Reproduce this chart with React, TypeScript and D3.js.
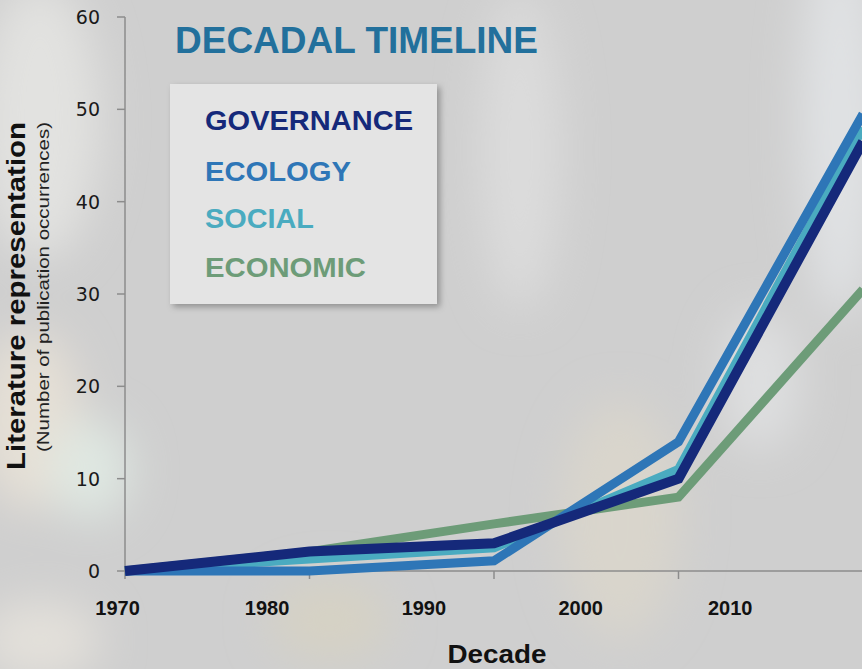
import React, { useEffect, useRef } from 'react';
import * as d3 from 'd3';

const W = 862;
const H = 669;

// x positions are category slots (one slot per vertex), labels sit off-grid like the source
const slots = [0, 1, 2, 3, 4];
const decadeLabels = ['1970', '1980', '1990', '2000', '2010'];
const decadeLabelSlots = [-0.04, 0.77, 1.62, 2.47, 3.28];
const yTicks = [0, 10, 20, 30, 40, 50, 60];

const governance = [0, 2.1, 3, 10, 46.5];
const ecology = [0, 0, 1.1, 14, 49.5];
const social = [0, 1.3, 2.5, 11, 48];
const economic = [0, 2.1, 5.1, 8, 30.5];

const seriesNames = ['GOVERNANCE', 'ECOLOGY', 'SOCIAL', 'ECONOMIC'];
const seriesColors = ['#15297a', '#2e76b7', '#4aabc0', '#6d9c78'];
const seriesValues = [governance, ecology, social, economic];
const drawOrder = [3, 2, 1, 0];

const App: React.FC = () => {
  const svgRef = useRef<SVGSVGElement>(null);

  useEffect(() => {
    if (!svgRef.current) return;
    const svg = d3.select(svgRef.current);
    svg.selectAll('*').remove();

    const margin = { left: 125, top: 17, bottom: 98 };
    const x = d3.scaleLinear().domain([0, 4]).range([margin.left, 863]);
    const y = d3.scaleLinear().domain([0, 60]).range([H - margin.bottom, margin.top]);
    const sans = 'Liberation Sans, Arial, sans-serif';

    // background, a blurred grey photo
    const defs = svg.append('defs');
    const blur = defs.append('filter').attr('id', 'blur').attr('x', '-50%').attr('y', '-50%')
      .attr('width', '200%').attr('height', '200%');
    blur.append('feGaussianBlur').attr('stdDeviation', 22);
    const shadow = defs.append('filter').attr('id', 'shadow').attr('x', '-10%').attr('y', '-10%')
      .attr('width', '130%').attr('height', '130%');
    shadow.append('feDropShadow').attr('dx', 3).attr('dy', 3).attr('stdDeviation', 3)
      .attr('flood-color', '#000').attr('flood-opacity', 0.3);

    svg.append('rect').attr('width', W).attr('height', H).attr('fill', '#cfcfcf');
    const bg = svg.append('g').attr('filter', 'url(#blur)');
    const blobs: [number, number, number, number, string][] = [
      [40, 120, 60, 140, '#e2e2e0'],
      [30, 420, 50, 90, '#e6e0d6'],
      [90, 470, 40, 50, '#dfe8e2'],
      [520, 150, 40, 160, '#dcdcdc'],
      [840, 120, 40, 200, '#e0e2e4'],
      [620, 520, 60, 120, '#d9d5cc'],
      [760, 380, 40, 70, '#dedfe0'],
      [40, 640, 60, 40, '#e3e0da'],
      [330, 620, 60, 40, '#d6d2c4'],
    ];
    bg.selectAll('ellipse').data(blobs).join('ellipse')
      .attr('cx', d => d[0]).attr('cy', d => d[1]).attr('rx', d => d[2]).attr('ry', d => d[3])
      .attr('fill', d => d[4]);

    // title
    svg.append('text').attr('x', 175).attr('y', 53)
      .attr('font-family', sans).attr('font-weight', 'bold')
      .attr('font-size', 36).attr('textLength', 363).attr('lengthAdjust', 'spacingAndGlyphs')
      .attr('fill', '#22709c').text('DECADAL TIMELINE');

    // legend box
    svg.append('rect').attr('x', 170).attr('y', 84).attr('width', 267).attr('height', 220)
      .attr('fill', '#e4e4e4').attr('filter', 'url(#shadow)');
    const legendY = [130, 181, 228, 277];
    const legendW = [208, 146, 109, 161];
    svg.append('g').selectAll('text').data(seriesNames).join('text')
      .attr('x', 205).attr('y', (d, i) => legendY[i])
      .attr('font-family', sans).attr('font-weight', 'bold')
      .attr('font-size', 28).attr('textLength', (d, i) => legendW[i])
      .attr('lengthAdjust', 'spacingAndGlyphs')
      .attr('fill', (d, i) => seriesColors[i]).text(d => d);

    // y axis
    const axisColor = '#8c8c8c';
    svg.append('line').attr('x1', x(0)).attr('x2', x(0)).attr('y1', y(60)).attr('y2', y(0))
      .attr('stroke', axisColor).attr('stroke-width', 1.5);
    const yt = svg.append('g').selectAll('g').data(yTicks).join('g');
    yt.append('line').attr('x1', x(0) - 8).attr('x2', x(0)).attr('y1', d => y(d)).attr('y2', d => y(d))
      .attr('stroke', axisColor).attr('stroke-width', 1.5);
    yt.append('text').attr('x', x(0) - 25).attr('y', d => y(d)).attr('dy', '0.36em')
      .attr('text-anchor', 'end').attr('font-family', 'DejaVu Sans, Verdana, sans-serif')
      .attr('font-size', 19).attr('fill', '#1a1a1a').text(d => d);

    // x axis
    svg.append('line').attr('x1', x(0)).attr('x2', W).attr('y1', y(0)).attr('y2', y(0))
      .attr('stroke', axisColor).attr('stroke-width', 1.5);
    svg.append('g').selectAll('line').data(slots).join('line')
      .attr('x1', d => x(d)).attr('x2', d => x(d)).attr('y1', y(0)).attr('y2', y(0) + 8)
      .attr('stroke', axisColor).attr('stroke-width', 1.5);
    svg.append('g').selectAll('text').data(decadeLabels).join('text')
      .attr('x', (d, i) => x(decadeLabelSlots[i])).attr('y', 615).attr('text-anchor', 'middle')
      .attr('font-family', sans).attr('font-weight', 'bold')
      .attr('font-size', 20).attr('fill', '#111').text(d => d);

    svg.append('text').attr('x', 497).attr('y', 663).attr('text-anchor', 'middle')
      .attr('font-family', sans).attr('font-weight', 'bold')
      .attr('font-size', 26).attr('textLength', 99).attr('lengthAdjust', 'spacingAndGlyphs')
      .attr('fill', '#111').text('Decade');

    svg.append('text').attr('transform', 'translate(25,296) rotate(-90)').attr('text-anchor', 'middle')
      .attr('font-family', sans).attr('font-weight', 'bold')
      .attr('font-size', 25).attr('textLength', 348).attr('lengthAdjust', 'spacingAndGlyphs')
      .attr('fill', '#111').text('Literature representation');
    svg.append('text').attr('transform', 'translate(49,287) rotate(-90)').attr('text-anchor', 'middle')
      .attr('font-family', sans)
      .attr('font-size', 17).attr('textLength', 330).attr('lengthAdjust', 'spacingAndGlyphs')
      .attr('fill', '#222').text('(Number of publication occurrences)');

    // lines
    const line = d3.line<number>().x((d, i) => x(slots[i])).y(d => y(d)).curve(d3.curveLinear);
    const lines = svg.append('g');
    drawOrder.forEach(k => {
      lines.append('path').datum(seriesValues[k]).attr('d', line)
        .attr('fill', 'none').attr('stroke', seriesColors[k])
        .attr('stroke-width', k === 0 ? 10 : 9).attr('stroke-linejoin', 'miter');
    });
  }, []);

  return (
    <div style={{ position: 'fixed', left: 0, top: 0, width: W, height: H, overflow: 'hidden' }}>
      <svg ref={svgRef} width={W} height={H} />
    </div>
  );
};

export default App;
